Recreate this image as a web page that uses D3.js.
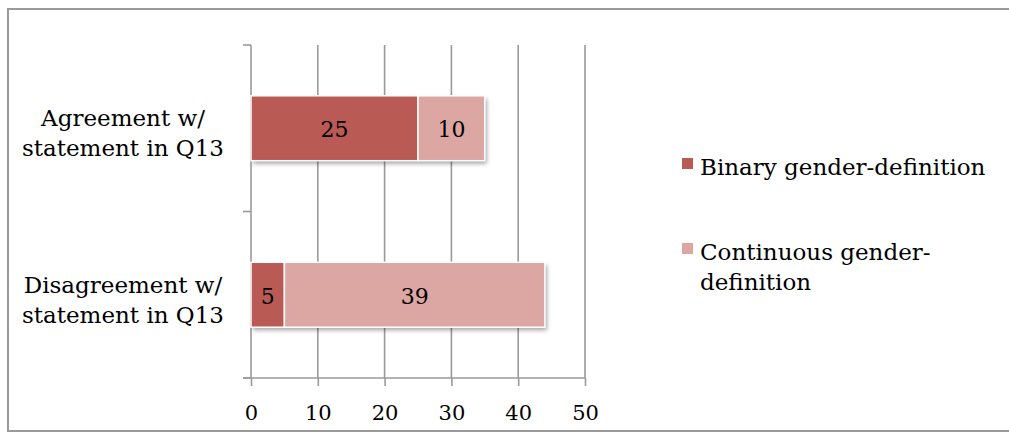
<!DOCTYPE html>
<html>
<head>
<meta charset="utf-8">
<script src="https://cdn.jsdelivr.net/npm/d3@7"></script>
<style>
  html, body { margin: 0; padding: 0; background: #fff; }
  svg { display: block; }
  text { font-family: "DejaVu Serif", "Liberation Serif", serif; fill: #000; }
</style>
</head>
<body>
<svg id="chart" width="1009" height="432"></svg>
<script>
// Survey answers split by the respondent's definition of gender
const categories = [["Agreement w/", "statement in Q13"], ["Disagreement w/", "statement in Q13"]];
const seriesNames = ["Binary gender-definition", "Continuous gender-definition"];
const legendLines = [["Binary gender-definition"], ["Continuous gender-", "definition"]];
const binary = [25, 5];
const continuous = [10, 39];
const xTicks = [0, 10, 20, 30, 40, 50];
const colors = ["#B95B54", "#DCA6A3"];

const svg = d3.select("#chart");
const W = 1009, H = 432;

// outer frame
svg.append("rect").attr("x", 8).attr("y", 9).attr("width", W + 2).attr("height", H - 10)
  .attr("fill", "#fff").attr("stroke", "#9a9a9a").attr("stroke-width", 2);

const plot = { left: 251, right: 585, top: 45, bottom: 378 };

const x = d3.scaleLinear().domain([0, 50]).range([plot.left, plot.right]);
const y = d3.scaleBand().domain(d3.range(categories.length))
  .range([plot.top, plot.bottom]).paddingInner(0.61).paddingOuter(0.305);

const defs = svg.append("defs");
const f = defs.append("filter").attr("id", "shadow").attr("x", "-10%").attr("y", "-20%")
  .attr("width", "130%").attr("height", "160%");
f.append("feDropShadow").attr("dx", 2).attr("dy", 3).attr("stdDeviation", 2.2)
  .attr("flood-color", "#000").attr("flood-opacity", 0.35);

// vertical gridlines
svg.append("g").selectAll("line").data(xTicks.slice(1)).join("line")
  .attr("x1", d => x(d)).attr("x2", d => x(d))
  .attr("y1", plot.top).attr("y2", plot.bottom)
  .attr("stroke", "#9a9a9a").attr("stroke-width", 1.6);

// category axis with ticks between bands
const ya = svg.append("g");
ya.append("line").attr("x1", plot.left).attr("x2", plot.left)
  .attr("y1", plot.top).attr("y2", plot.bottom).attr("stroke", "#9a9a9a").attr("stroke-width", 1.6);
const bandEdges = [plot.top, (plot.top + plot.bottom) / 2, plot.bottom];
ya.selectAll("line.t").data(bandEdges).join("line").attr("class", "t")
  .attr("x1", plot.left - 8).attr("x2", plot.left).attr("y1", d => d).attr("y2", d => d)
  .attr("stroke", "#9a9a9a").attr("stroke-width", 1.6);

// value axis
const xa = svg.append("g").attr("transform", `translate(0,${plot.bottom})`)
  .call(d3.axisBottom(x).tickValues(xTicks).tickSize(8).tickSizeOuter(0).tickPadding(19));
xa.select(".domain").attr("stroke", "#9a9a9a").attr("stroke-width", 1.6)
  .attr("d", `M${plot.left - 8},0H${plot.right}`);
xa.selectAll(".tick line").attr("stroke", "#9a9a9a").attr("stroke-width", 1.6);
xa.selectAll(".tick text").attr("font-size", 21).attr("font-family", "DejaVu Serif, serif").attr("fill", "#000");

// stacked bars
const rows = categories.map((c, i) => [
  { i, s: 0, x0: 0, x1: binary[i], v: binary[i] },
  { i, s: 1, x0: binary[i], x1: binary[i] + continuous[i], v: continuous[i] }
]);

const barG = svg.append("g");
rows.forEach(r => {
  const g = barG.append("g");
  g.append("rect").attr("x", x(0)).attr("y", y(r[0].i))
    .attr("width", x(r[1].x1) - x(0)).attr("height", y.bandwidth())
    .attr("fill", "#fff").attr("filter", "url(#shadow)");
  g.selectAll("rect.seg").data(r).join("rect").attr("class", "seg")
    .attr("x", d => x(d.x0)).attr("y", d => y(d.i))
    .attr("width", d => x(d.x1) - x(d.x0)).attr("height", y.bandwidth())
    .attr("fill", d => colors[d.s]).attr("stroke", "#fff").attr("stroke-width", 1.5);
  g.selectAll("text").data(r).join("text")
    .attr("x", d => (x(d.x0) + x(d.x1)) / 2)
    .attr("y", d => y(d.i) + y.bandwidth() / 2)
    .attr("dy", "0.42em").attr("text-anchor", "middle").attr("font-size", 22)
    .text(d => d.v);
});

// category labels
const cl = svg.append("g");
categories.forEach((lines, i) => {
  const cy = y(i) + y.bandwidth() / 2;
  const t = cl.append("text").attr("text-anchor", "middle").attr("font-size", 23)
    .attr("x", 123).attr("y", cy - 2);
  lines.forEach((ln, k) => t.append("tspan").attr("x", 123).attr("dy", k === 0 ? 0 : 30).text(ln));
});

// legend
const lg = svg.append("g");
const legendY = [175, 260];
seriesNames.forEach((name, i) => {
  lg.append("rect").attr("x", 682).attr("y", legendY[i] - 17).attr("width", 11).attr("height", 11)
    .attr("fill", colors[i]);
  const t = lg.append("text").attr("font-size", 23).attr("x", 700).attr("y", legendY[i]);
  legendLines[i].forEach((ln, k) => t.append("tspan").attr("x", 700).attr("dy", k === 0 ? 0 : 30).text(ln));
});
</script>
</body>
</html>
